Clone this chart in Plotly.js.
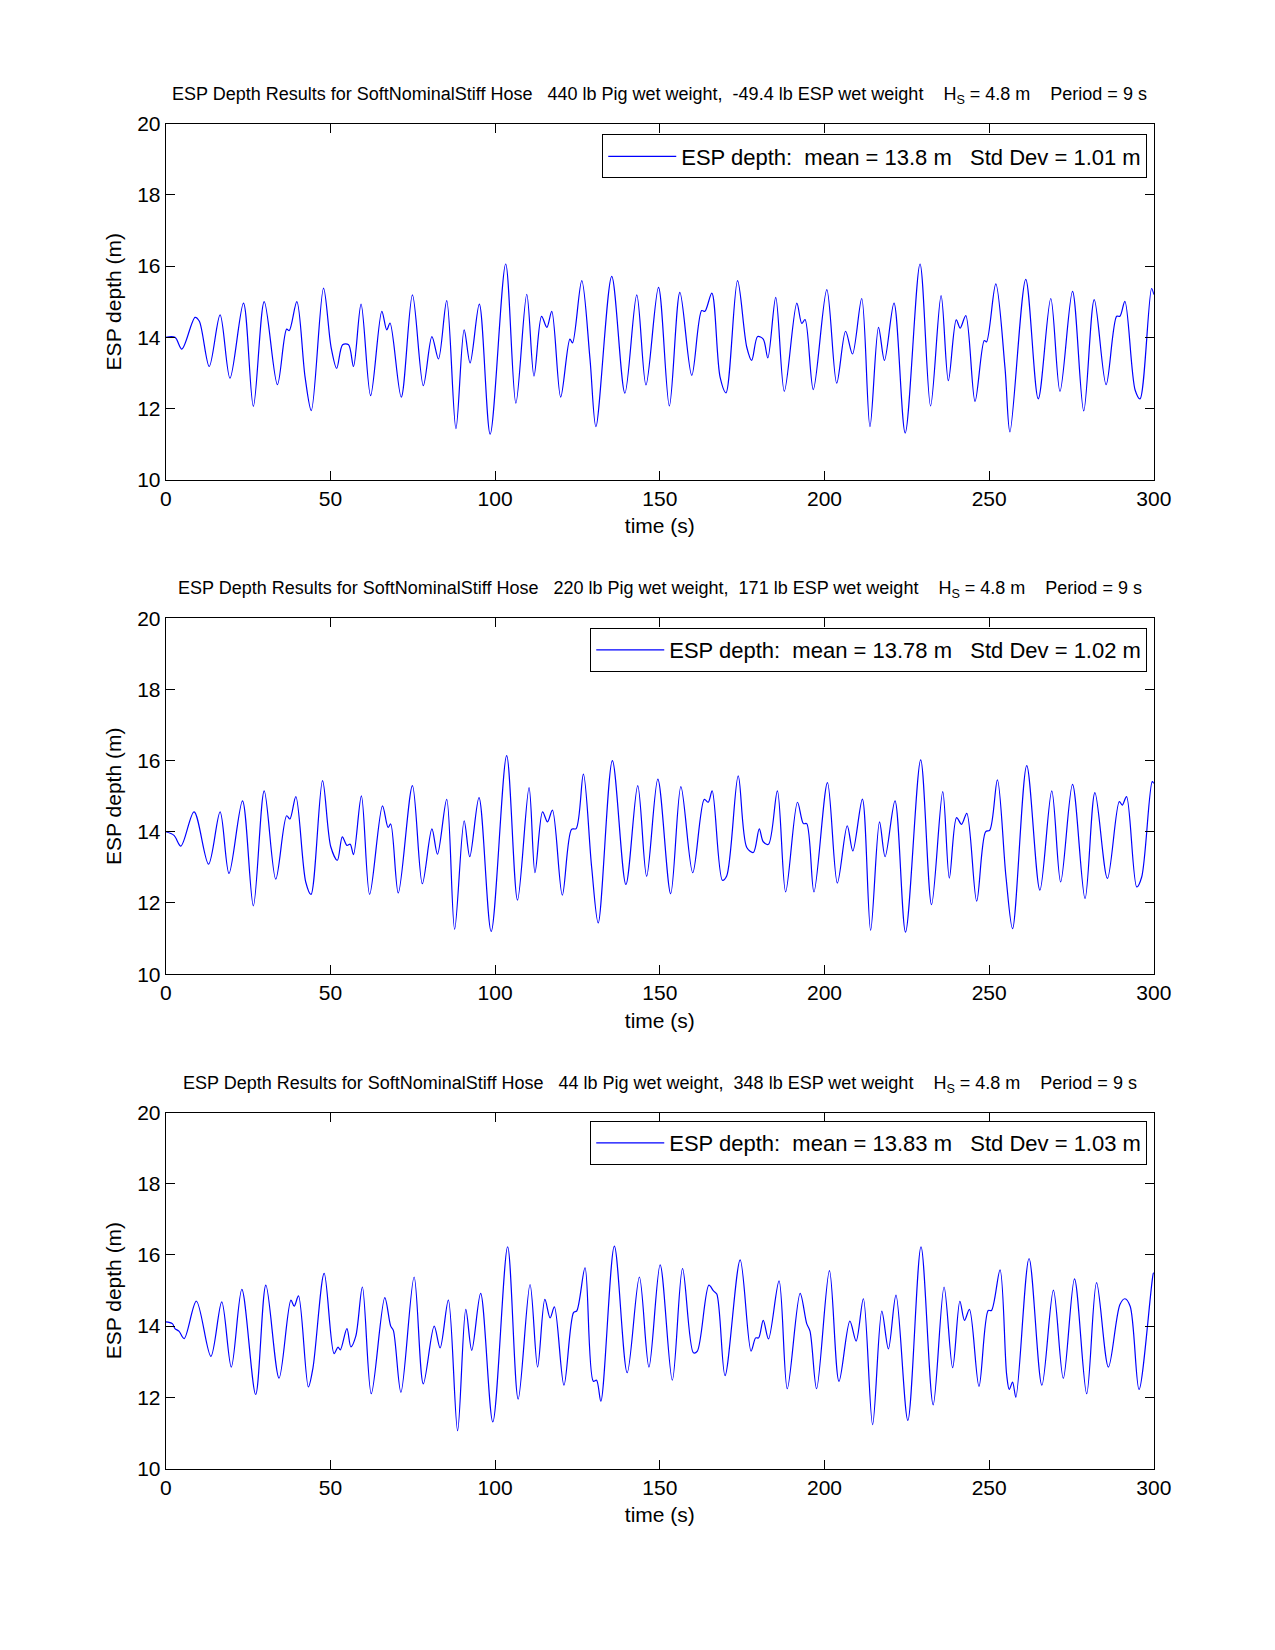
<!DOCTYPE html>
<html>
<head>
<meta charset="utf-8">
<script src="https://cdn.plot.ly/plotly-3.0.1.min.js"></script>
<style>
  html, body { margin: 0; padding: 0; background: #fff; }
  #chart { width: 1275px; height: 1650px; }
</style>
</head>
<body>
<div id="chart"></div>
<script>
// ESP depth time histories (peaks, troughs and shoulders)
const time1 = [0, 2.8, 4.9, 8.9, 10.2, 13.2, 16.5, 19.5, 23.6, 26.6, 29.9, 33.9, 36.7, 37.5, 39.8, 42.3, 44.2, 47.9, 50.2, 51.9,
    53.7, 55.5, 57.0, 59.3, 62.2, 65.6, 67.1, 68.1, 71.5, 74.9, 78.2, 80.8, 82.8, 85.3, 88.1, 90.6, 92.4, 95.2, 98.5, 103.2,
    106.3, 109.6, 111.8, 114.1, 115.7, 117.2, 119.9, 122.7, 123.5, 126.3, 128.8, 130.6, 135.4, 139.4, 143.0, 145.8, 149.6, 152.9, 156.1, 159.7,
    162.7, 163.7, 165.8, 168.3, 170.1, 173.6, 176.4, 177.9, 179.7, 181.4, 182.8, 185.2, 187.8, 191.6, 193.1, 194.1, 196.6, 200.7, 203.7, 206.4,
    208.5, 211.3, 213.8, 216.4, 218.2, 221.1, 224.5, 229.0, 232.2, 235.4, 237.6, 240.0, 241.2, 242.9, 245.7, 248.5, 249.2, 252.0, 254.8, 256.3,
    261.1, 264.9, 268.7, 271.5, 275.3, 278.7, 281.9, 285.5, 288.7, 289.7, 291.2, 294.3, 295.8, 299.3, 300];
const depth1 = [14.0, 14.0, 13.67, 14.56, 14.45, 13.18, 14.63, 12.85, 14.96, 12.06, 15.0, 12.67, 14.23, 14.19, 15.0, 12.88, 11.94, 15.38, 13.72, 13.13,
    13.79, 13.79, 13.18, 14.93, 12.36, 14.73, 14.21, 14.4, 12.32, 15.19, 12.64, 14.02, 13.39, 15.03, 11.43, 14.21, 13.28, 14.93, 11.28, 16.06,
    12.15, 15.21, 12.91, 14.59, 14.28, 14.73, 12.32, 13.95, 13.84, 15.59, 13.39, 11.49, 15.71, 12.43, 15.19, 12.66, 15.40, 12.07, 15.26, 12.93,
    14.75, 14.73, 15.24, 12.88, 12.44, 15.59, 13.72, 13.35, 14.02, 13.95, 13.42, 15.12, 12.48, 14.96, 14.39, 14.5, 12.53, 15.34, 12.71, 14.17,
    13.53, 15.09, 11.49, 14.28, 13.35, 14.96, 11.31, 16.06, 12.07, 15.17, 12.78, 14.49, 14.26, 14.61, 12.2, 13.91, 13.87, 15.5, 13.14, 11.34,
    15.63, 12.27, 15.09, 12.48, 15.29, 11.93, 15.06, 12.67, 14.59, 14.59, 15.01, 12.52, 12.27, 15.37, 15.2];

const time2 = [0, 2.5, 4.6, 8.6, 13.0, 16.5, 19.2, 23.3, 26.6, 29.9, 33.4, 36.7, 37.7, 39.5, 42.5, 44.1, 47.6, 50.1, 52.1, 53.6,
    55.0, 56.0, 57.0, 59.4, 61.9, 65.8, 67.5, 68.3, 70.6, 74.9, 77.9, 80.8, 82.5, 85.3, 87.7, 90.6, 92.3, 95.1, 98.8, 103.5,
    106.8, 110.3, 112.1, 114.4, 115.9, 117.4, 120.4, 123.2, 124.6, 126.8, 129.3, 131.3, 135.6, 139.7, 143.3, 146.0, 149.4, 153.3, 156.4, 160.0,
    163.5, 164.7, 165.9, 169.0, 170.3, 173.8, 176.4, 178.4, 180.2, 181.4, 183.0, 185.7, 188.2, 191.8, 193.6, 194.6, 196.8, 200.9, 203.9, 206.9,
    208.6, 211.5, 214.0, 216.7, 218.4, 221.4, 224.6, 229.2, 232.5, 235.9, 237.9, 240.1, 241.6, 243.2, 246.2, 248.9, 250.2, 252.5, 255.1, 257.1,
    261.4, 265.4, 269.0, 271.7, 275.3, 279.1, 282.1, 285.9, 289.5, 290.4, 291.7, 294.8, 296.3, 299.5, 300];
const depth2 = [14.0, 13.9, 13.6, 14.56, 13.09, 14.56, 12.83, 14.87, 11.92, 15.15, 12.67, 14.45, 14.36, 14.99, 12.59, 12.24, 15.44, 13.58, 13.2, 13.86,
    13.62, 13.65, 13.36, 15.01, 12.24, 14.73, 14.12, 14.22, 12.28, 15.3, 12.54, 14.08, 13.37, 14.91, 11.26, 14.31, 13.3, 14.96, 11.2, 16.14,
    12.08, 15.24, 12.85, 14.56, 14.28, 14.61, 12.22, 14.07, 14.09, 15.62, 13.01, 11.44, 16.0, 12.52, 15.3, 12.75, 15.48, 12.26, 15.27, 12.85,
    14.91, 14.83, 15.15, 12.64, 12.76, 15.57, 13.56, 13.42, 14.08, 13.72, 13.65, 15.15, 12.31, 14.83, 14.23, 14.23, 12.31, 15.38, 12.56, 14.17,
    13.46, 14.92, 11.23, 14.28, 13.3, 14.87, 11.18, 16.02, 11.95, 15.13, 12.7, 14.4, 14.21, 14.52, 12.05, 14.0, 14.05, 15.46, 12.73, 11.28,
    15.86, 12.36, 15.15, 12.59, 15.33, 12.12, 15.1, 12.69, 14.85, 14.75, 14.99, 12.45, 12.73, 15.41, 15.36];

const time3 = [0, 2.0, 2.8, 4.0, 5.6, 9.3, 13.7, 17.0, 19.9, 23.1, 27.3, 30.4, 34.4, 38.0, 39.0, 40.3, 43.3, 44.7, 48.1, 51.1,
    52.3, 53.0, 55.0, 56.2, 57.7, 59.7, 62.4, 66.5, 68.3, 69.1, 71.4, 75.4, 78.2, 81.5, 83.3, 85.8, 88.6, 91.1, 92.9, 95.6,
    99.3, 103.8, 107.0, 110.6, 112.9, 115.1, 116.7, 118.0, 120.9, 123.8, 124.8, 127.3, 129.8, 130.8, 132.1, 136.2, 140.1, 143.8, 146.7, 150.1,
    153.8, 156.9, 160.2, 161.4, 164.9, 166.3, 167.3, 169.8, 174.4, 177.7, 179.1, 180.0, 181.4, 183.0, 186.2, 188.7, 192.6, 194.6, 195.6, 197.6,
    201.5, 204.4, 207.7, 209.6, 211.8, 214.6, 217.4, 219.4, 221.7, 225.3, 229.3, 233.0, 236.3, 238.9, 241.1, 242.5, 244.0, 246.9, 249.7, 250.7,
    253.3, 255.3, 256.1, 257.1, 258.1, 262.1, 266.0, 269.5, 272.5, 275.9, 279.6, 282.6, 286.2, 289.7, 291.2, 292.8, 295.5, 299.8, 300];
const depth3 = [14.12, 14.07, 13.93, 13.86, 13.65, 14.7, 13.15, 14.68, 12.85, 15.03, 12.08, 15.15, 12.54, 14.73, 14.56, 14.85, 12.29, 12.83, 15.48, 13.23,
    13.41, 13.33, 13.93, 13.42, 13.72, 15.1, 12.1, 14.8, 14.0, 13.88, 12.14, 15.38, 12.38, 14.0, 13.39, 14.73, 11.06, 14.47, 13.32, 14.92,
    11.31, 16.23, 11.95, 15.17, 12.85, 14.75, 14.23, 14.54, 12.34, 14.38, 14.43, 15.64, 12.45, 12.48, 11.89, 16.25, 12.69, 15.38, 12.85, 15.72,
    12.48, 15.62, 13.25, 13.3, 15.15, 14.99, 14.9, 12.61, 15.86, 13.3, 13.67, 13.67, 14.16, 13.64, 15.27, 12.24, 14.92, 14.07, 13.86, 12.24,
    15.56, 12.45, 14.14, 13.58, 14.77, 11.23, 14.42, 13.36, 14.87, 11.35, 16.23, 11.79, 15.1, 12.83, 14.7, 14.16, 14.47, 12.31, 14.44, 14.44,
    15.58, 12.64, 12.22, 12.43, 12.0, 15.9, 12.34, 15.01, 12.53, 15.33, 12.1, 15.22, 12.85, 14.61, 14.77, 14.56, 12.22, 15.47, 15.5];

const pigWeights = ['440', '220', '44'];
const espWeights = ['-49.4', '171', '348'];
const meanDepths = ['13.8', '13.78', '13.83'];
const stdDevs = ['1.01', '1.02', '1.03'];

const xTicks = [0, 50, 100, 150, 200, 250, 300];
const yTicks = [10, 12, 14, 16, 18, 20];

const FONT = 'Liberation Sans, Arial, Helvetica, sans-serif';
const NB = '\u00a0';
const sp = n => NB.repeat(n);

// subplot placement (paper fractions)
const X_DOMAIN = [0.13, 0.905];
const Y_DOMAINS = [[0.7093, 0.925], [0.4096, 0.6253], [0.11, 0.3257]];

const series = [[time1, depth1], [time2, depth2], [time3, depth3]];

const traces = series.map(([t, d], i) => ({
    x: t,
    y: d,
    xaxis: i === 0 ? 'x' : 'x' + (i + 1),
    yaxis: i === 0 ? 'y' : 'y' + (i + 1),
    legend: i === 0 ? 'legend' : 'legend' + (i + 1),
    type: 'scatter',
    mode: 'lines',
    line: { color: '#0000ff', width: 1.2, shape: 'spline', smoothing: 0.9 },
    name: `ESP depth:${sp(2)}mean = ${meanDepths[i]} m${sp(3)}Std Dev = ${stdDevs[i]} m`,
    showlegend: true,
    hoverinfo: 'x+y',
}));

function xAxis(i) {
    return {
        domain: X_DOMAIN,
        anchor: i === 0 ? 'y' : 'y' + (i + 1),
        range: [0, 300],
        tickvals: xTicks,
        ticks: 'inside',
        ticklen: 9,
        tickcolor: '#000',
        showline: true,
        linecolor: '#000',
        linewidth: 1,
        mirror: 'ticks',
        showgrid: false,
        zeroline: false,
        tickfont: { family: FONT, size: 21, color: '#000' },
        title: { text: 'time (s)', font: { family: FONT, size: 21, color: '#000' }, standoff: 9 },
    };
}

function yAxis(i) {
    return {
        domain: Y_DOMAINS[i],
        anchor: i === 0 ? 'x' : 'x' + (i + 1),
        range: [10, 20],
        tickvals: yTicks,
        ticks: 'inside',
        ticklen: 9,
        tickcolor: '#000',
        showline: true,
        linecolor: '#000',
        linewidth: 1,
        mirror: 'ticks',
        showgrid: false,
        zeroline: false,
        tickfont: { family: FONT, size: 21, color: '#000' },
        title: { text: 'ESP depth (m)', font: { family: FONT, size: 21, color: '#000' }, standoff: 9 },
    };
}

function legendBox(i) {
    const tops = [0.9185, 0.6194, 0.3206];
    return {
        x: 0.8998,
        xanchor: 'right',
        y: tops[i],
        yanchor: 'top',
        bgcolor: '#fff',
        bordercolor: '#000',
        borderwidth: 1,
        itemwidth: 68,
        font: { family: FONT, size: 22, color: '#000' },
    };
}

const titleY = [0.9424, 0.6430, 0.3428];
const annotations = titleY.map((y, i) => ({
    xref: 'paper', yref: 'paper',
    x: (X_DOMAIN[0] + X_DOMAIN[1]) / 2, y: y,
    xanchor: 'center', yanchor: 'middle',
    showarrow: false,
    font: { family: FONT, size: 18, color: '#000' },
    text: `ESP Depth Results for SoftNominalStiff Hose${sp(3)}${pigWeights[i]} lb Pig wet weight,${sp(2)}${espWeights[i]} lb ESP wet weight${sp(4)}H<sub>S</sub> = 4.8 m${sp(4)}Period = 9 s`,
}));

const layout = {
    width: 1275,
    height: 1650,
    margin: { l: 0, r: 0, t: 0, b: 0 },
    paper_bgcolor: '#fff',
    plot_bgcolor: '#fff',
    font: { family: FONT, color: '#000' },
    xaxis: xAxis(0), xaxis2: xAxis(1), xaxis3: xAxis(2),
    yaxis: yAxis(0), yaxis2: yAxis(1), yaxis3: yAxis(2),
    legend: legendBox(0), legend2: legendBox(1), legend3: legendBox(2),
    annotations: annotations,
};

Plotly.newPlot('chart', traces, layout, { displayModeBar: false, staticPlot: true });
</script>
</body>
</html>
